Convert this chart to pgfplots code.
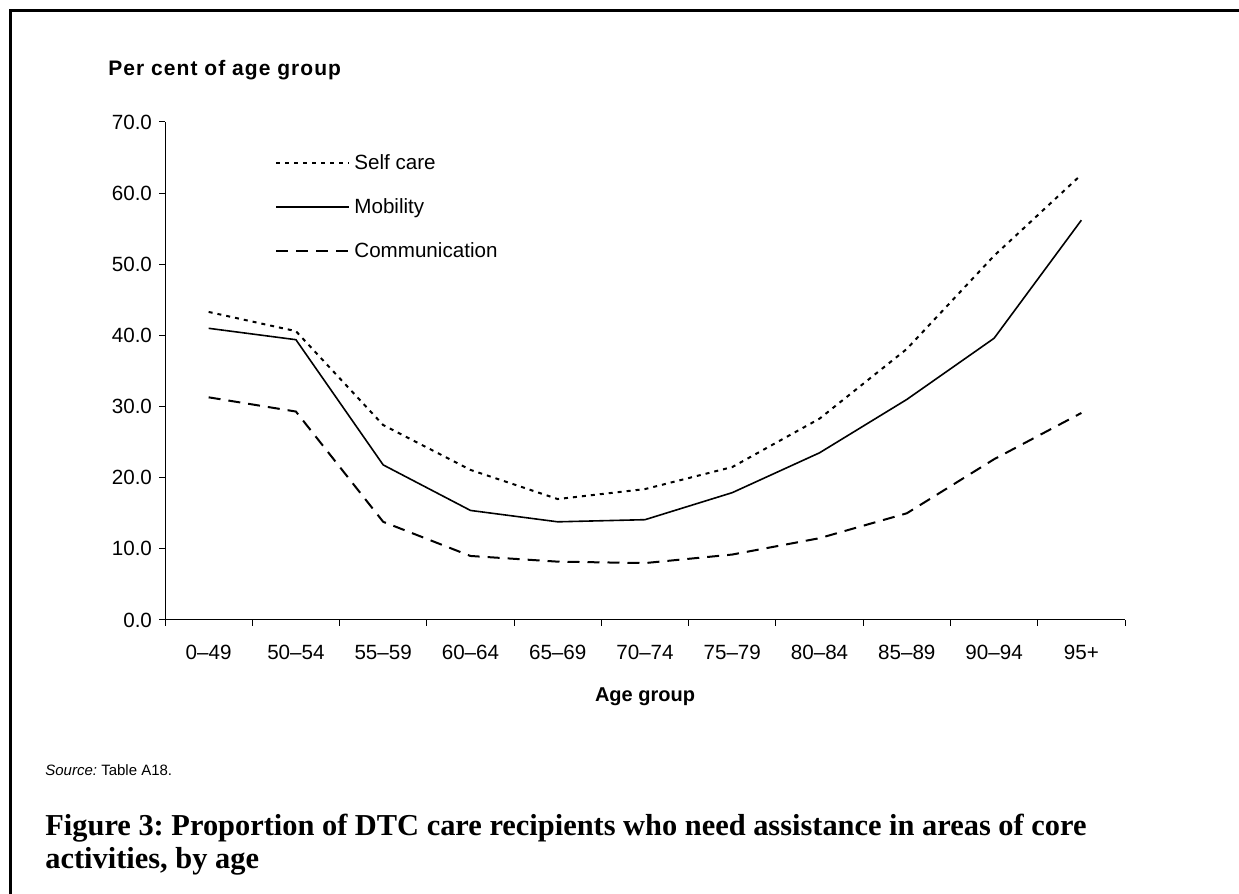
\documentclass[border=0pt]{standalone}
\usepackage{fontspec}
\setmainfont{Liberation Sans}
\newfontfamily\capfont{Liberation Serif}
\newfontfamily\spacedfont[LetterSpace=5]{Liberation Sans}
\usepackage{pgfplots}
\pgfplotsset{compat=1.18}

\pgfplotstableread{
x self mob comm
0  43.3 41.0 31.3
1  40.6 39.4 29.3
2  27.4 21.8 13.8
3  21.1 15.4  9.0
4  17.0 13.8  8.2
5  18.4 14.1  8.0
6  21.5 17.9  9.2
7  28.3 23.5 11.5
8  38.1 31.0 15.0
9  51.2 39.6 22.6
10 62.6 56.2 29.1
}\agedata

\begin{document}
\frenchspacing
\begin{tikzpicture}
\useasboundingbox (0,0) rectangle (619.5pt,447pt);
% frame, cut at right and bottom like the page scan
\draw[line width=1.5pt] (5pt,-5pt) -- (5pt,441.5pt) -- (630pt,441.5pt);

\begin{axis}[
  scale only axis,
  width=480pt, height=249pt,
  at={(82.5pt,137pt)}, anchor=south west,
  xmin=-0.5, xmax=10.5, ymin=0, ymax=70,
  axis x line=bottom, axis y line=left,
  axis line style={-, line width=0.5pt},
  xtick={0,...,10},
  xticklabels={0–49,50–54,55–59,60–64,65–69,70–74,75–79,80–84,85–89,90–94,95+},
  major x tick style={draw=none},
  minor xtick={-0.5,0.5,...,10.5},
  minor tick length=3pt,
  ytick={0,10,...,70},
  major tick length=3pt,
  tick align=outside,
  tick style={black, line width=0.5pt},
  ticklabel style={font=\fontsize{10.3}{12}\selectfont},
  xticklabel style={yshift=-6pt},
  yticklabel style={/pgf/number format/.cd, fixed, fixed zerofill, precision=1, assume math mode=true},
  xlabel={\bfseries Age group},
  xlabel style={font=\fontsize{10}{12}\selectfont, at={(axis description cs:0.5,0)}, anchor=center, yshift=-38.5pt},
  legend style={at={(rel axis cs:0,1)}, anchor=north west, xshift=52pt, yshift=-12pt,
    draw=none, fill=none, font=\fontsize{10.3}{12}\selectfont, row sep=9pt},
  legend cell align=left,
  legend image code/.code={\draw[#1] (0pt,0pt) -- (36.5pt,0pt);},
]
\addplot[black, line width=1pt, dash pattern=on 2pt off 2.5pt] table[x=x, y=self] {\agedata};
\addlegendentry{Self care}
\addplot[black, line width=0.8pt] table[x=x, y=mob] {\agedata};
\addlegendentry{Mobility}
\addplot[black, line width=1pt, dash pattern=on 6pt off 4pt] table[x=x, y=comm] {\agedata};
\addlegendentry{Communication}
\end{axis}

\node[anchor=west, inner sep=0pt, font=\fontsize{10.5}{12}\selectfont\spacedfont\bfseries] at (54pt,412pt) {Per cent of age group};
\node[anchor=base west, inner sep=0pt, font=\fontsize{7.5}{9}\selectfont] at (22.5pt,59pt) {\itshape Source:\upshape{} Table A18.};
\node[anchor=base west, inner sep=0pt, font=\fontsize{15.2}{18}\selectfont\capfont\bfseries] at (22.5pt,29pt)
  {Figure 3: Proportion of DTC care recipients who need assistance in areas of core};
\node[anchor=base west, inner sep=0pt, font=\fontsize{15.2}{18}\selectfont\capfont\bfseries] at (22.5pt,12.5pt)
  {activities, by age};
\end{tikzpicture}
\end{document}
